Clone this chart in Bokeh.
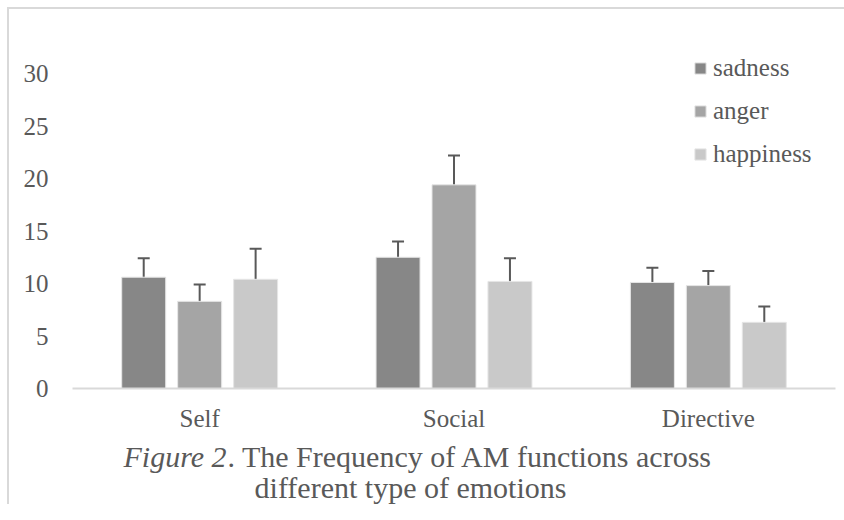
from bokeh.plotting import figure
from bokeh.layouts import column, row
from bokeh.models import (ColumnDataSource, FactorRange, Range1d, FixedTicker, Whisker,
                          TeeHead, Legend, LegendItem, Label, Div, Spacer)
from bokeh.transform import dodge
from bokeh.embed import file_html
from bokeh.resources import INLINE

categories = ["Self", "Social", "Directive"]
emotions = ["sadness", "anger", "happiness"]
sadness = [10.6, 12.5, 10.1]
sadness_upper = [12.4, 14.0, 11.5]
sadness_lower = [9.0, 11.1, 8.7]
anger = [8.3, 19.4, 9.8]
anger_upper = [9.9, 22.2, 11.2]
anger_lower = [6.3, 16.6, 8.4]
happiness = [10.4, 10.2, 6.3]
happiness_upper = [13.3, 12.4, 7.8]
happiness_lower = [6.7, 8.1, 4.9]
y_ticks = [0, 5, 10, 15, 20, 25, 30]
caption_italic = "Figure 2"
caption_rest = ". The Frequency of AM functions across"
caption_line2 = "different type of emotions"

colors = ["#878787", "#a5a5a5", "#c9c9c9"]
FONT = "Liberation Serif"
TXT = "#595959"
EDGE = "#d9d9d9"
W = 835
H_MAIN, H_CAP = 425, 70


def no_align(f):
    if "frame_align" in f.properties():
        f.frame_align = False
    return f


p = figure(width=W, height=H_MAIN, x_range=FactorRange(*categories, range_padding=0),
           y_range=Range1d(0, 32), output_backend="svg", toolbar_location=None,
           min_border_left=63, min_border_right=9, min_border_top=43, min_border_bottom=46)
no_align(p)
p.x_range.range_padding = 0
p.outline_line_color = None
p.xgrid.visible = False
p.ygrid.visible = False
p.background_fill_color = "white"
p.border_fill_color = "white"

source = ColumnDataSource(dict(cat=categories,
                               sadness=sadness, sadness_upper=sadness_upper, sadness_lower=sadness_lower,
                               anger=anger, anger_upper=anger_upper, anger_lower=anger_lower,
                               happiness=happiness, happiness_upper=happiness_upper,
                               happiness_lower=happiness_lower))

offsets = [-0.22, 0.0, 0.22]
renderers = []
for em, off, col in zip(emotions, offsets, colors):
    r = p.vbar(x=dodge("cat", off, range=p.x_range), top=em, width=0.173, source=source,
               fill_color=col, line_color="#e6e6e6", line_width=1)
    renderers.append(r)
    w = Whisker(source=source, base=dodge("cat", off, range=p.x_range),
                upper=em + "_upper", lower=em + "_lower",
                line_color="#595959", line_width=2,
                upper_head=TeeHead(size=12, line_color="#595959", line_width=2),
                lower_head=TeeHead(size=12, line_color="#595959", line_width=2))
    p.add_layout(w)

p.yaxis.ticker = FixedTicker(ticks=y_ticks)
p.yaxis.axis_line_color = None
p.yaxis.major_tick_line_color = None
p.yaxis.minor_tick_line_color = None
p.yaxis.major_tick_out = 0
p.yaxis.major_tick_in = 0
p.yaxis.major_label_standoff = 24
p.yaxis.major_label_text_font = FONT
p.yaxis.major_label_text_font_size = "25px"
p.yaxis.major_label_text_color = TXT

p.xaxis.axis_line_color = EDGE
p.xaxis.axis_line_width = 2
p.xaxis.major_tick_line_color = None
p.xaxis.minor_tick_line_color = None
p.xaxis.major_tick_out = 0
p.xaxis.major_tick_in = 0
p.xaxis.major_label_standoff = 16
p.xaxis.major_label_text_font = FONT
p.xaxis.major_label_text_font_size = "25px"
p.xaxis.major_label_text_color = TXT

legend = Legend(items=[LegendItem(label=em, renderers=[r]) for em, r in zip(emotions, renderers)],
                location=(621, 219), padding=0, margin=0, spacing=13,
                glyph_width=14, glyph_height=14, label_height=30, label_standoff=6,
                border_line_color=None, background_fill_alpha=0,
                label_text_font=FONT, label_text_font_size="25px", label_text_color=TXT)
p.add_layout(legend, "center")

# caption panel
c = figure(width=W, height=H_CAP, x_range=Range1d(0, 1), y_range=Range1d(0, 1),
           x_axis_type=None, y_axis_type=None, output_backend="svg", toolbar_location=None,
           min_border_left=0, min_border_right=0, min_border_top=0, min_border_bottom=0)
no_align(c)
c.grid.visible = False
c.outline_line_color = None
c.background_fill_color = "white"
c.border_fill_color = "white"

cap1a = Label(x=114, y=48, x_units="screen", y_units="screen", text=caption_italic,
              text_baseline="alphabetic",
              text_font=FONT, text_font_style="italic", text_font_size="30px", text_color=TXT)
cap1b = Label(x=218, y=48, x_units="screen", y_units="screen", text=caption_rest,
              text_baseline="alphabetic",
              text_font=FONT, text_font_size="30px", text_color=TXT)
cap2 = Label(x=401, y=17, x_units="screen", y_units="screen", text=caption_line2,
             text_align="center", text_baseline="alphabetic",
             text_font=FONT, text_font_size="30px", text_color=TXT)
for lab in (cap1a, cap1b, cap2):
    c.add_layout(lab)

# light frame lines at the top and left of the figure box
top_line = Div(width=837, height=2, margin=0, styles={"background-color": EDGE})
left_line = Div(width=2, height=H_MAIN + H_CAP, margin=0, styles={"background-color": EDGE})

layout = column(
    Spacer(width=844, height=7, margin=0),
    row(Spacer(width=7, height=2, margin=0), top_line, spacing=0),
    row(Spacer(width=7, height=H_MAIN + H_CAP, margin=0), left_line, column(p, c, spacing=0), spacing=0),
    spacing=0,
)

open("out.html", "w").write(file_html(layout, INLINE))
